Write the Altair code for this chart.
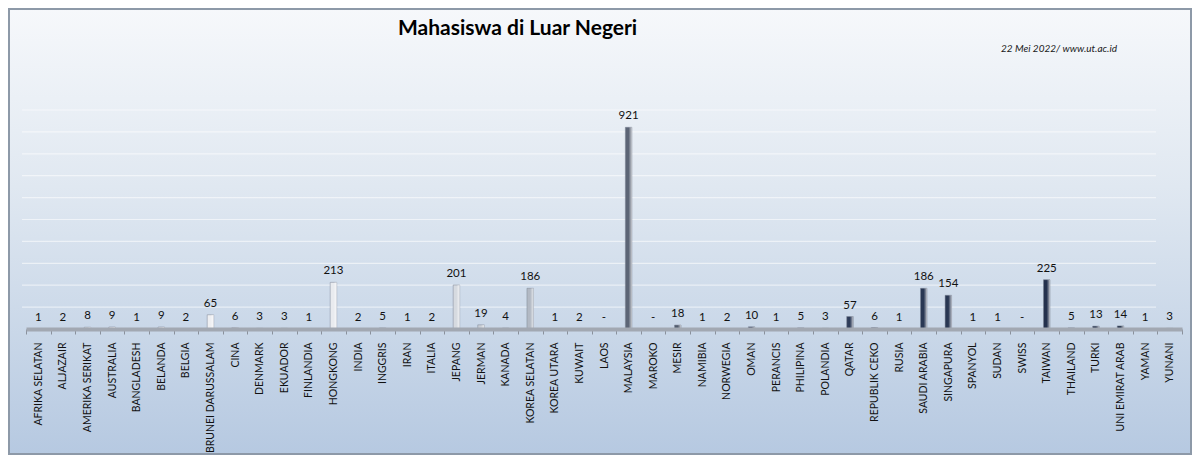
import altair as alt
import pandas as pd

countries = [
    "AFRIKA SELATAN", "ALJAZAIR", "AMERIKA SERIKAT", "AUSTRALIA", "BANGLADESH",
    "BELANDA", "BELGIA", "BRUNEI DARUSSALAM", "CINA", "DENMARK", "EKUADOR",
    "FINLANDIA", "HONGKONG", "INDIA", "INGGRIS", "IRAN", "ITALIA", "JEPANG",
    "JERMAN", "KANADA", "KOREA SELATAN", "KOREA UTARA", "KUWAIT", "LAOS",
    "MALAYSIA", "MAROKO", "MESIR", "NAMIBIA", "NORWEGIA", "OMAN", "PERANCIS",
    "PHILIPINA", "POLANDIA", "QATAR", "REPUBLIK CEKO", "RUSIA", "SAUDI ARABIA",
    "SINGAPURA", "SPANYOL", "SUDAN", "SWISS", "TAIWAN", "THAILAND", "TURKI",
    "UNI EMIRAT ARAB", "YAMAN", "YUNANI",
]
students = [
    1, 2, 8, 9, 1, 9, 2, 65, 6, 3, 3, 1, 213, 2, 5, 1, 2, 201, 19, 4, 186, 1,
    2, 0, 921, 0, 18, 1, 2, 10, 1, 5, 3, 57, 6, 1, 186, 154, 1, 1, 0, 225, 5,
    13, 14, 1, 3,
]
grid_values = [100, 200, 300, 400, 500, 600, 700, 800, 900, 1000]

title_text = "Mahasiswa di Luar Negeri"
note_text = "22 Mei 2022/ www.ut.ac.id"

df = pd.DataFrame({"negara": countries, "jumlah": students})
df["idx"] = range(len(df))
df["label"] = [str(v) if v > 0 else "-" for v in students]

W, H = 1156, 219
PAD_L, PAD_T, PAD_R, PAD_B = 18, 102, 10, 126

xenc = alt.X(
    "negara:N",
    sort=countries,
    scale=alt.Scale(paddingInner=0, paddingOuter=0),
    axis=alt.Axis(
        title=None,
        labelAngle=-90,
        labelFontSize=10.5,
        labelColor="#111111",
        labelPadding=8,
        labelOverlap=False,
        labelLimit=300,
        tickSize=5,
        tickColor="#8a919c",
        tickBand="extent",
        domainColor="#a2a8b2",
        domainWidth=4,
        zindex=1,
    ),
)
yscale = alt.Scale(domain=[0, 1000])
yenc = alt.Y("jumlah:Q", scale=yscale, axis=None)

bg = alt.Chart(alt.Data(values=[{"k": 1}])).mark_rect(
    color=alt.Gradient(
        gradient="linear",
        x1=0, x2=0, y1=0, y2=1,
        stops=[
            alt.GradientStop(color="#f6f8fb", offset=0),
            alt.GradientStop(color="#e0e8f1", offset=0.4),
            alt.GradientStop(color="#b6c9e1", offset=1),
        ],
    ),
    stroke="#8d99a8",
    strokeWidth=2,
).encode(
    x=alt.value(-PAD_L + 1),
    x2=alt.value(W + PAD_R - 1),
    y=alt.value(-PAD_T + 1),
    y2=alt.value(H + PAD_B - 1),
)

grid = alt.Chart(pd.DataFrame({"g": grid_values})).mark_rule(
    color="white", strokeWidth=1.2, opacity=0.55
).encode(
    y=alt.Y("g:Q", scale=yscale, axis=None),
    x=alt.value(-4),
    x2=alt.value(W - 26),
)

base = alt.Chart(df)

bars = base.mark_bar(size=6.5).encode(
    x=xenc,
    y=yenc,
    color=alt.Color(
        "idx:Q",
        scale=alt.Scale(
            domain=[0, 12, 17, 20, 24, 33, 46],
            range=["#f4f5f7", "#e9ebef", "#d6dae0", "#b2b9c4", "#5c6576",
                   "#2e3c59", "#1e2b45"],
        ),
        legend=None,
    ),
    stroke=alt.value("#7d8594"),
    strokeWidth=alt.value(0.5),
)

shine = base.mark_bar(
    size=6.5,
    color=alt.Gradient(
        gradient="linear",
        x1=0, x2=1, y1=0, y2=0,
        stops=[
            alt.GradientStop(color="rgba(255,255,255,0)", offset=0),
            alt.GradientStop(color="rgba(255,255,255,0)", offset=0.5),
            alt.GradientStop(color="rgba(255,255,255,0.65)", offset=1),
        ],
    ),
).encode(x=xenc, y=yenc)

labels = base.mark_text(
    fontSize=11.5, color="#111111", baseline="middle", dy=-11
).encode(x=xenc, y=yenc, text="label:N")

title = alt.Chart(alt.Data(values=[{"t": title_text}])).mark_text(
    fontSize=21, fontWeight="bold", color="#000000", align="left",
    baseline="middle",
).encode(
    text="t:N",
    x=alt.value(372),
    y=alt.value(-81),
)

note = alt.Chart(alt.Data(values=[{"t": note_text}])).mark_text(
    fontSize=10, fontStyle="italic", color="#1a1a1a", align="right",
    baseline="middle",
).encode(
    text="t:N",
    x=alt.value(1091),
    y=alt.value(-61),
)

chart = (
    alt.layer(bg, grid, bars, shine, labels, title, note)
    .properties(
        width=W,
        height=H,
        padding={"left": PAD_L, "top": PAD_T, "right": PAD_R, "bottom": PAD_B},
        autosize=alt.AutoSizeParams(type="none"),
    )
    .configure(font="Lato", background="#ffffff")
    .configure_view(stroke=None)
)

chart.save("out.html", embed_options={"renderer": "svg", "actions": False})
